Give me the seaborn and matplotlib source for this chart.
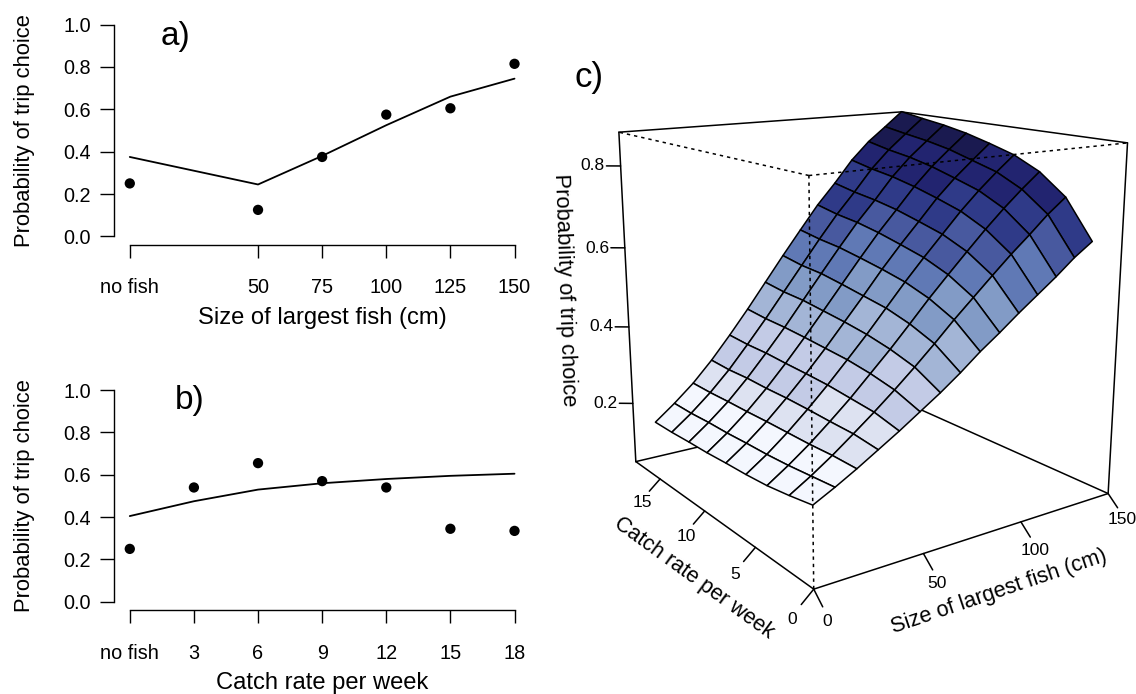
import numpy as np
import pandas as pd
import matplotlib
matplotlib.use("Agg")
import matplotlib.pyplot as plt
import seaborn as sns

W, H = 1136, 694

# panel a
size_ticks = [0, 50, 75, 100, 125, 150]
size_ticklabels = ['no fish', '50', '75', '100', '125', '150']
size_obs = [0.25, 0.125, 0.375, 0.575, 0.605, 0.815]
size_fit = [0.375, 0.245, 0.38, 0.525, 0.66, 0.745]

# panel b
catch_ticks = [0, 3, 6, 9, 12, 15, 18]
catch_ticklabels = ['no fish', '3', '6', '9', '12', '15', '18']
catch_obs = [0.25, 0.54, 0.655, 0.57, 0.54, 0.345, 0.335]
catch_fit = [0.405, 0.475, 0.53, 0.56, 0.58, 0.595, 0.605]

prob_ticks = [0.0, 0.2, 0.4, 0.6, 0.8, 1.0]

# panel c
grid_size = [0, 9.5, 19, 28.5, 38, 47.5, 57, 66.5, 76, 85.5, 95, 104.5, 114, 123.5, 133]
grid_catch = [0, 1.91, 3.81, 5.72, 7.63, 9.53, 11.44, 13.34, 15.25]
grid_prob = [
    [0.226, 0.215, 0.206, 0.201, 0.198, 0.194, 0.192, 0.189, 0.188],
    [0.251, 0.245, 0.239, 0.235, 0.233, 0.230, 0.229, 0.226, 0.226],
    [0.278, 0.278, 0.275, 0.274, 0.273, 0.271, 0.270, 0.268, 0.268],
    [0.307, 0.314, 0.315, 0.317, 0.318, 0.317, 0.318, 0.316, 0.318],
    [0.336, 0.351, 0.357, 0.363, 0.366, 0.368, 0.371, 0.371, 0.374],
    [0.367, 0.390, 0.403, 0.412, 0.417, 0.422, 0.426, 0.428, 0.433],
    [0.398, 0.431, 0.449, 0.462, 0.471, 0.478, 0.485, 0.488, 0.495],
    [0.432, 0.474, 0.498, 0.515, 0.525, 0.535, 0.544, 0.548, 0.557],
    [0.469, 0.519, 0.548, 0.568, 0.581, 0.592, 0.602, 0.608, 0.617],
    [0.502, 0.561, 0.595, 0.618, 0.633, 0.647, 0.658, 0.665, 0.676],
    [0.537, 0.603, 0.641, 0.666, 0.682, 0.697, 0.708, 0.716, 0.727],
    [0.570, 0.644, 0.686, 0.714, 0.732, 0.748, 0.761, 0.770, 0.782],
    [0.603, 0.682, 0.728, 0.757, 0.775, 0.792, 0.805, 0.814, 0.826],
    [0.639, 0.722, 0.767, 0.796, 0.813, 0.830, 0.842, 0.851, 0.861],
    [0.669, 0.756, 0.803, 0.832, 0.850, 0.866, 0.878, 0.887, 0.897],
]
surface_colors = ['#F4F7FE', '#DDE2F1', '#C3CBE6', '#A3B5D6', '#829BC6',
                  '#6079B5', '#48599F', '#2F3A88', '#222470', '#1A1A50']
surface_breaks = [0.275, 0.34, 0.42, 0.50, 0.56, 0.625, 0.68, 0.755, 0.83]
size_axis_ticks = [0, 50, 100, 150]
catch_axis_ticks = [0, 5, 10, 15]
z_axis_ticks = [0.2, 0.4, 0.6, 0.8]

sns.set_theme(style='ticks', rc={
    'axes.edgecolor': 'black', 'axes.linewidth': 1.0,
    'xtick.color': 'black', 'ytick.color': 'black',
    'text.color': 'black', 'axes.labelcolor': 'black',
})
plt.rcParams['font.family'] = ['Liberation Sans', 'DejaVu Sans']


def px_box(left, top, right, bottom):
    return [left / W, 1 - bottom / H, (right - left) / W, (bottom - top) / H]


def px_text(fig, x, y, s, **kw):
    kw.setdefault('ha', 'center')
    kw.setdefault('va', 'center')
    return fig.text(x / W, 1 - y / H, s, **kw)


def plot_panel(fig, box, xs, obs, fit, ticks, ticklabels, xlabel, tag, tag_xy, xlabel_y):
    left, top, right, bottom = box
    ax = fig.add_axes(px_box(*box))
    df = pd.DataFrame({'x': xs, 'obs': obs, 'fit': fit})
    sns.lineplot(data=df, x='x', y='fit', color='black', lw=1.3, ax=ax, errorbar=None)
    sns.scatterplot(data=df, x='x', y='obs', color='black', s=55, edgecolor='none', ax=ax, zorder=3)
    span = xs[-1] - xs[0]
    ax.set_xlim(xs[0] - 0.04 * span, xs[-1] + 0.04 * span)
    ax.set_ylim(-0.04, 1.04)
    ax.set_xticks(ticks, ticklabels)
    ax.set_yticks(prob_ticks, [f'{t:.1f}' for t in prob_ticks])
    ax.tick_params(axis='x', length=9.6, width=1.0, pad=14.5, labelsize=14.3)
    ax.tick_params(axis='y', length=10, width=1.0, pad=7, labelsize=14.3)
    sns.despine(ax=ax)
    ax.spines['left'].set_bounds(0, 1)
    ax.spines['bottom'].set_bounds(xs[0], xs[-1])
    ax.set_xlabel(xlabel, fontsize=17.1, va='center')
    ax.set_ylabel('Probability of trip choice', fontsize=15.8, va='center')
    ax.xaxis.set_label_coords(0.5, (bottom - xlabel_y) / (bottom - top))
    ax.yaxis.set_label_coords((25 - left) / (right - left), 0.5)
    px_text(fig, *tag_xy, tag, fontsize=24)
    return ax


def plot_surface_panel(fig):
    ax = fig.add_axes([561.1 / W, 77.3 / H, 590.5 / W, 590.5 / H], projection='3d')
    ax.computed_zorder = False
    ax.view_init(14.99, -125.09)
    ax.set_proj_type('persp', focal_length=0.3853)
    ax.set_box_aspect((1, 1, 1))
    ax.set_axis_off()

    X, Y = np.meshgrid(grid_size, grid_catch, indexing='ij')
    Z = np.array(grid_prob)
    # colour each facet by its mean height
    cell = (Z[:-1, :-1] + Z[1:, :-1] + Z[:-1, 1:] + Z[1:, 1:]) / 4
    idx = np.digitize(cell, surface_breaks)
    rgba = np.array([matplotlib.colors.to_rgba(c) for c in surface_colors])
    fc = np.ones(Z.shape + (4,))
    fc[:-1, :-1] = rgba[idx]
    surf = ax.plot_surface(X, Y, Z, facecolors=fc, shade=False, rstride=1, cstride=1, zorder=2)
    surf.set_edgecolor('black')
    surf.set_linewidth(1.1)

    s1, c1, lo, hi = 150, 18, 0.0432, 0.8805
    solid = dict(color='black', lw=1.1, solid_capstyle='round')
    back = [((0, s1), (c1, c1), (lo, lo)), ((s1, s1), (0, c1), (lo, lo)), ((s1, s1), (c1, c1), (lo, hi)),
            ((0, s1), (c1, c1), (hi, hi)), ((s1, s1), (0, c1), (hi, hi)),
            ((0, 0), (c1, c1), (lo, hi)), ((s1, s1), (0, 0), (lo, hi)),
            ((0, 0), (0, c1), (lo, lo)), ((0, s1), (0, 0), (lo, lo))]
    for xs, ys, zs in back:
        ax.plot(xs, ys, zs, zorder=1, **solid)
    front = [((0, 0), (0, c1), (hi, hi)), ((0, s1), (0, 0), (hi, hi)), ((0, 0), (0, 0), (lo, hi))]
    for xs, ys, zs in front:
        ax.plot(xs, ys, zs, color='black', lw=1.1, ls=(0, (2.2, 2.6)), zorder=3)

    # axis ticks
    for s in size_axis_ticks:
        ax.plot((s, s), (0, -0.7), (lo, lo - 0.025), zorder=1, **solid)
    for c in catch_axis_ticks:
        ax.plot((0, -5.4), (c, c), (lo, lo - 0.025), zorder=1, **solid)
    for z in z_axis_ticks:
        ax.plot((0, -4.9), (c1, c1 + 0.44), (z, z), zorder=1, **solid)

    ax.set_xlim(0, s1)
    ax.set_ylim(0, c1)
    ax.set_zlim(lo, hi)

    # labels
    for (x, y), s in zip([(592.5, 166), (597, 248), (601.6, 327), (605.4, 403)], ['0.8', '0.6', '0.4', '0.2']):
        px_text(fig, x, y, s, fontsize=12.5)
    for (x, y), s in zip([(791.7, 619), (735, 574.3), (686.4, 536.7), (642.7, 502.7)], ['0', '5', '10', '15']):
        px_text(fig, x, y, s, fontsize=12.5)
    for (x, y), s in zip([(827, 621.7), (936.6, 584), (1035, 550.7), (1121.8, 520)], ['0', '50', '100', '150']):
        px_text(fig, x, y, s, fontsize=12.5)
    px_text(fig, 564.5, 290, 'Probability of trip choice', fontsize=15.8, rotation=-88, rotation_mode='anchor')
    px_text(fig, 999, 592, 'Size of largest fish (cm)', fontsize=15.7, rotation=18.7, rotation_mode='anchor')
    px_text(fig, 694, 578, 'Catch rate per week', fontsize=15.5, rotation=-36, rotation_mode='anchor')
    px_text(fig, 589, 78, 'c)', fontsize=25)


def main():
    fig = plt.figure(figsize=(W / 100, H / 100), dpi=100)
    plot_panel(fig, (114.4, 16.2, 529.9, 244.8), size_ticks, size_obs, size_fit, size_ticks, size_ticklabels,
               'Size of largest fish (cm)', 'a)', (176, 37), 318)
    plot_panel(fig, (114.4, 381.6, 529.9, 610.3), catch_ticks, catch_obs, catch_fit, catch_ticks, catch_ticklabels,
               'Catch rate per week', 'b)', (190, 401), 682.7)
    plot_surface_panel(fig)
    fig.savefig('out.png', dpi=100)


if __name__ == "__main__":
    main()
